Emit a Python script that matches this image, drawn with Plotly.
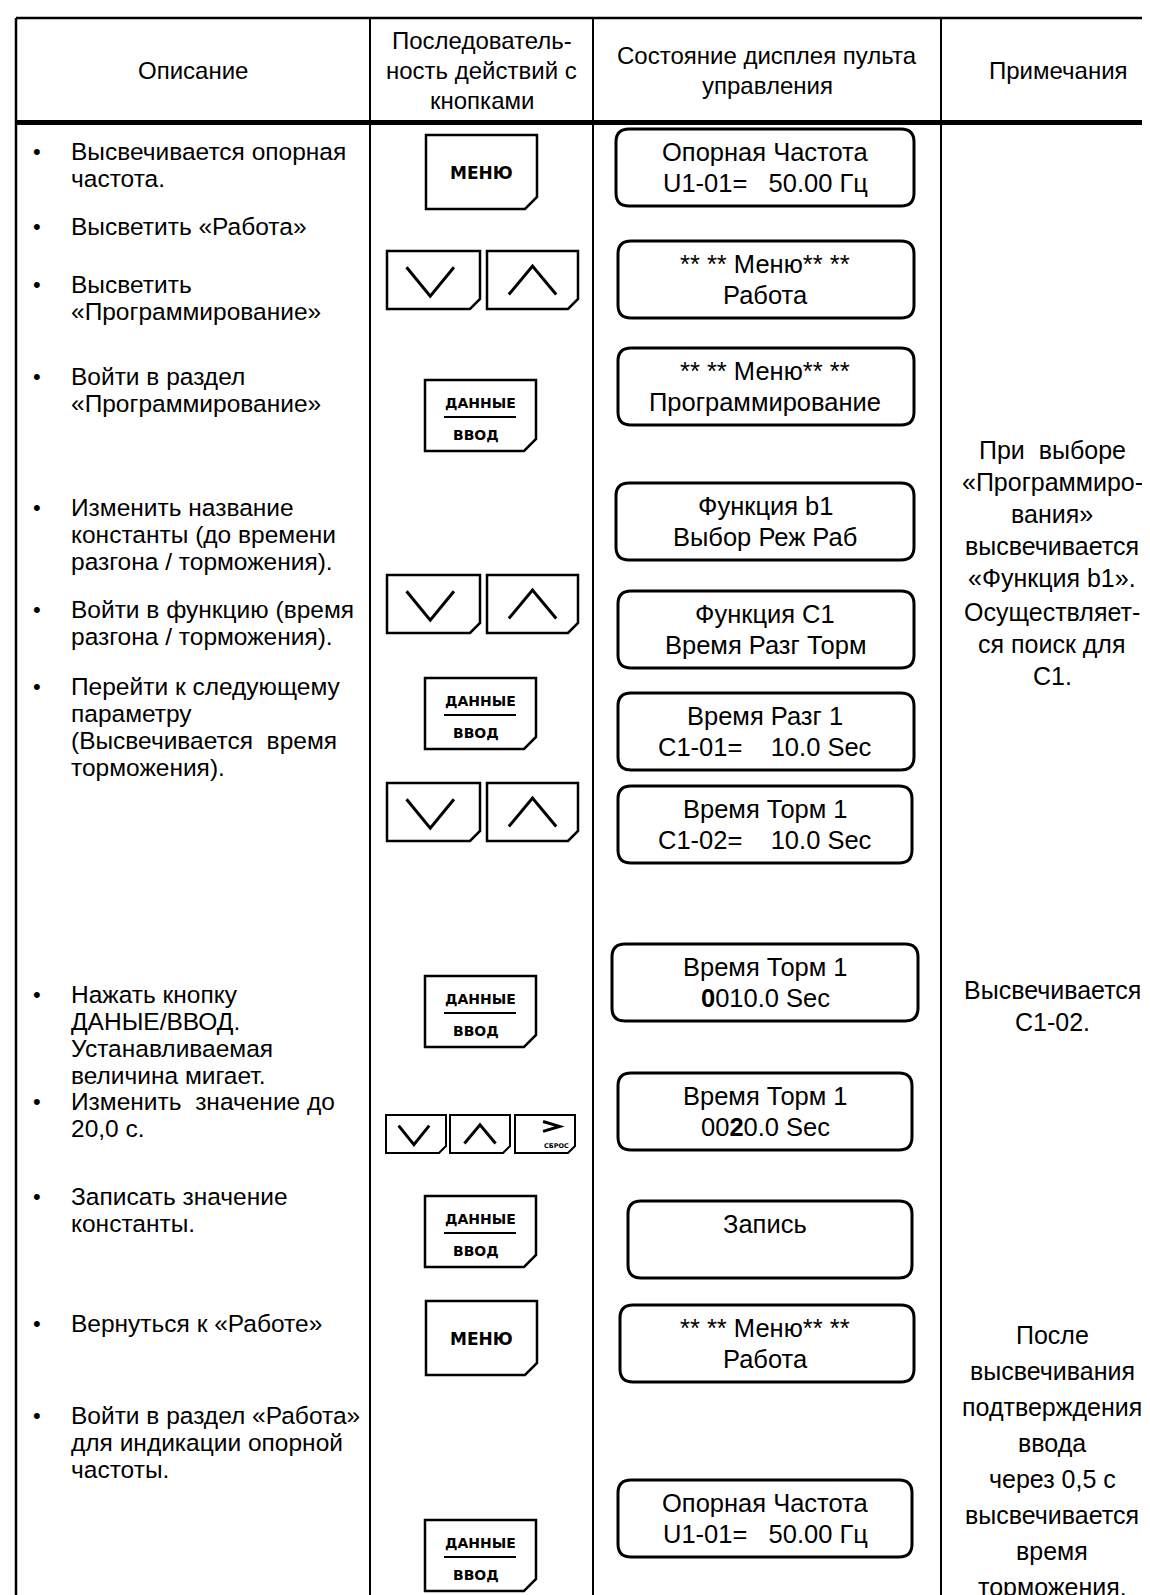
import plotly.graph_objects as go

W, H = 1150, 1595
FONT = "Liberation Sans, Arial, sans-serif"
BTN_FONT = "DejaVu Sans, Verdana, sans-serif"
NB = "\u00a0"

# ---------------- content ----------------
HEADERS = [
    ["Описание"],
    ["Последователь-", "ность действий с", "кнопками"],
    ["Состояние дисплея пульта", "управления"],
    ["Примечания"],
]

DESCRIPTIONS = [
    ["Высвечивается опорная", "частота."],
    ["Высветить «Работа»"],
    ["Высветить", "«Программирование»"],
    ["Войти в раздел", "«Программирование»"],
    ["Изменить название", "константы (до времени", "разгона / торможения)."],
    ["Войти в функцию (время", "разгона / торможения)."],
    ["Перейти к следующему", "параметру", "(Высвечивается" + NB + NB + "время", "торможения)."],
    ["Нажать кнопку", "ДАНЫЕ/ВВОД.", "Устанавливаемая", "величина мигает."],
    ["Изменить" + NB + NB + "значение до", "20,0 с."],
    ["Записать значение", "константы."],
    ["Вернуться к «Работе»"],
    ["Войти в раздел «Работа»", "для индикации опорной", "частоты."],
]

BUTTONS = ["МЕНЮ", "arrows", "ДАННЫЕ", "arrows", "ДАННЫЕ", "arrows",
           "ДАННЫЕ", "arrows3", "ДАННЫЕ", "МЕНЮ", "ДАННЫЕ"]

DISPLAYS = [
    ["Опорная Частота", "U1-01=" + NB * 3 + "50.00 Гц"],
    ["** ** Меню** **", "Работа"],
    ["** ** Меню** **", "Программирование"],
    ["Функция b1", "Выбор Реж Раб"],
    ["Функция C1", "Время Разг Торм"],
    ["Время Разг 1", "C1-01=" + NB * 4 + "10.0 Sec"],
    ["Время Торм 1", "C1-02=" + NB * 4 + "10.0 Sec"],
    ["Время Торм 1", "<b>0</b>010.0 Sec"],
    ["Время Торм 1", "00<b>2</b>0.0 Sec"],
    ["Запись"],
    ["** ** Меню** **", "Работа"],
    ["Опорная Частота", "U1-01=" + NB * 3 + "50.00 Гц"],
]

NOTES = [
    ["При" + NB + NB + "выборе", "«Программиро-", "вания»", "высвечивается", "«Функция b1»."],
    ["Осуществляет-", "ся поиск для", "С1."],
    ["Высвечивается", "С1-02."],
    ["После", "высвечивания", "подтверждения", "ввода", "через 0,5 с",
     "высвечивается", "время", "торможения."],
]

# ---------------- layout (pixel positions) ----------------
COL_X = [8, 362, 585, 933]
TOP_Y, HEAD_Y = 10, 114.5

DESC_Y = [143, 218, 276, 368, 499, 601, 678, 986, 1093, 1188, 1315, 1407]
DESC_DY = 27
BUTTON_Y = [127, 243, 372, 567, 670, 775, 968, 1107, 1188, 1293, 1512]
DISPLAY_Y = [121, 233, 340, 475, 583, 685, 778, 936, 1065, 1193, 1297, 1472]
DISPLAY_X = [(608, 906), (610, 906), (610, 906), (608, 906), (610, 906), (610, 906),
             (610, 904), (604, 910), (610, 904), (620, 904), (612, 906), (610, 904)]
NOTE_Y = [442, 604, 982, 1327]
NOTE_DY = [32, 32, 32, 36]

shapes = []
annotations = []


def line(x0, y0, x1, y1, w=2):
    shapes.append(dict(type="line", x0=x0, y0=y0, x1=x1, y1=y1,
                       xref="x", yref="y", line=dict(color="black", width=w)))


def path(d, w=2.5):
    shapes.append(dict(type="path", path=d, xref="x", yref="y",
                       line=dict(color="black", width=w)))


def text(x, y, s, size=24, anchor="center", family=FONT, color="black"):
    annotations.append(dict(x=x, y=y, xref="x", yref="y", text=s, showarrow=False,
                            xanchor=anchor, yanchor="middle",
                            font=dict(family=family, size=size, color=color)))


# table grid
line(COL_X[0], TOP_Y, W + 5, TOP_Y, 2.5)
line(COL_X[0], TOP_Y, COL_X[0], H + 5, 2.5)
for cx in COL_X[1:]:
    line(cx, TOP_Y, cx, H + 5, 2)
line(COL_X[0], HEAD_Y, W + 5, HEAD_Y, 5)

# headers
HEAD_CX = [185, 473.5, 759, 1050]
for cx, lines in zip(HEAD_CX, HEADERS):
    n = len(lines)
    for i, s in enumerate(lines):
        text(cx, 62 + (i - (n - 1) / 2) * 30, s, size=24)

# descriptions
for y0, lines in zip(DESC_Y, DESCRIPTIONS):
    text(29, y0, "•", size=22)
    for i, s in enumerate(lines):
        text(61, y0 + i * DESC_DY, s, size=24.5, anchor="left")


# buttons
def btn_outline(x0, y0, x1, y1, c=12, w=2.5):
    path(f"M{x0},{y0} L{x1},{y0} L{x1},{y1 - c} L{x1 - c},{y1} L{x0},{y1} Z", w)


def chevron(x0, y0, w, h, kind):
    if kind == "down":
        d = (f"M{x0 + 0.21 * w},{y0 + 0.28 * h} L{x0 + 0.465 * w},{y0 + 0.78 * h} "
             f"L{x0 + 0.72 * w},{y0 + 0.28 * h}")
    elif kind == "up":
        d = (f"M{x0 + 0.24 * w},{y0 + 0.75 * h} L{x0 + 0.5 * w},{y0 + 0.26 * h} "
             f"L{x0 + 0.76 * w},{y0 + 0.75 * h}")
    else:  # right
        d = (f"M{x0 + 0.46 * w},{y0 + 0.17 * h} L{x0 + 0.73 * w},{y0 + 0.30 * h} "
             f"L{x0 + 0.46 * w},{y0 + 0.43 * h}")
    path(d, 3)


for kind, by in zip(BUTTONS, BUTTON_Y):
    if kind == "МЕНЮ":
        btn_outline(418, by, 529, by + 74)
        text(473, by + 38, "<b>МЕНЮ</b>", size=17, family=BTN_FONT)
    elif kind == "ДАННЫЕ":
        btn_outline(417, by, 528, by + 71)
        text(472, by + 23, "<b>ДАННЫЕ</b>", size=14, family=BTN_FONT)
        line(436, by + 37, 508, by + 37, 2)
        text(468, by + 55, "<b>ВВОД</b>", size=14, family=BTN_FONT)
    elif kind == "arrows":
        btn_outline(379, by, 472, by + 58, 10)
        chevron(379, by, 93, 58, "down")
        btn_outline(479, by, 570, by + 58, 10)
        chevron(479, by, 91, 58, "up")
    else:
        for bx, k in zip([378, 442, 507], ["down", "up", "right"]):
            btn_outline(bx, by, bx + 60, by + 38, 7, 2)
            if k == "right":
                chevron(bx, by, 61, 38, "right")
                text(bx + 41, by + 31, "<b>СБРОС</b>", size=6.5, family=BTN_FONT)
            else:
                chevron(bx, by, 60, 38, k)


# displays
def rrect(x0, y0, x1, y1, r=13):
    return (f"M{x0 + r},{y0} L{x1 - r},{y0} Q{x1},{y0} {x1},{y0 + r} "
            f"L{x1},{y1 - r} Q{x1},{y1} {x1 - r},{y1} L{x0 + r},{y1} "
            f"Q{x0},{y1} {x0},{y1 - r} L{x0},{y0 + r} Q{x0},{y0} {x0 + r},{y0} Z")


for (x0, x1), dy, lines in zip(DISPLAY_X, DISPLAY_Y, DISPLAYS):
    path(rrect(x0, dy, x1, dy + 77), 3)
    for i, s in enumerate(lines):
        text(757, dy + 23 + i * 31, s, size=25.5)

# notes
for ny, step, lines in zip(NOTE_Y, NOTE_DY, NOTES):
    for i, s in enumerate(lines):
        text(1044, ny + i * step, s, size=25)

fig = go.Figure()
fig.update_layout(
    width=W, height=H,
    margin=dict(l=0, r=0, t=0, b=0),
    paper_bgcolor="white", plot_bgcolor="white",
    xaxis=dict(range=[0, W], visible=False, fixedrange=True),
    yaxis=dict(range=[H, 0], visible=False, fixedrange=True),
    shapes=shapes, annotations=annotations, showlegend=False,
)
fig.write_html("out.html")
